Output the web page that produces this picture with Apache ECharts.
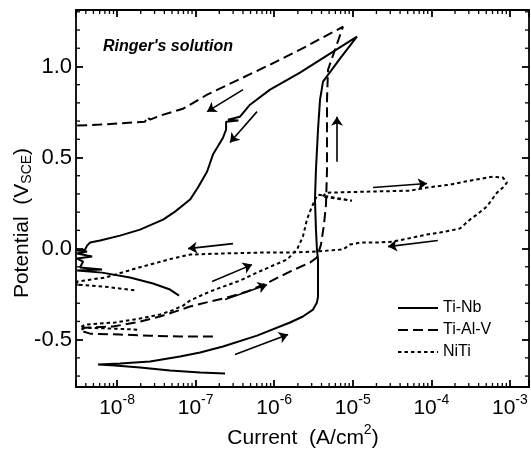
<!DOCTYPE html>
<html><head><meta charset="utf-8">
<script src="https://cdn.jsdelivr.net/npm/echarts@6/dist/echarts.min.js"></script>
<style>html,body{margin:0;padding:0;background:#fff}#c{width:531px;height:452px}</style>
</head><body><div id="c"></div>
<script>
const FONT = '"Liberation Sans", Arial, Helvetica, sans-serif';
const X_MIN = 3.0e-9, X_MAX = 1.75e-3;
const Y_MIN = -0.76, Y_MAX = 1.31;
const xTickExps = [-8, -7, -6, -5, -4, -3];
const yTickLabels = [-0.5, 0.0, 0.5, 1.0];
const seriesNames = ['Ti-Nb', 'Ti-Al-V', 'NiTi'];

// [current (A/cm2), potential (V_SCE)]
const tiNb = [
[2.37e-7,-0.686],[1.14e-7,-0.681],[4.72e-8,-0.670],[1.96e-8,-0.653],[9.43e-9,-0.642],[5.73e-9,-0.637],
[1.09e-8,-0.631],[2.63e-8,-0.620],[6.33e-8,-0.593],[1.14e-7,-0.571],[2.23e-7,-0.538],[6.04e-7,-0.478],
[1.59e-6,-0.406],[2.32e-6,-0.373],[3.12e-6,-0.335],[3.50e-6,-0.296],[3.61e-6,-0.263],[3.61e-6,-0.170],
[3.61e-6,-0.060],[3.50e-6,-0.005],[3.40e-6,0.104],[3.30e-6,0.269],[3.40e-6,0.434],[3.61e-6,0.653],
[3.83e-6,0.818],[4.18e-6,0.917],[6.87e-6,1.043],[1.13e-5,1.164],
[5.13e-6,1.070],[2.13e-6,0.966],[8.85e-7,0.873],[4.92e-7,0.790],[3.67e-7,0.724],[2.58e-7,0.708],
[3.50e-7,0.703],[2.44e-7,0.697],[2.44e-7,0.653],[2.23e-7,0.609],[1.66e-7,0.516],[1.40e-7,0.423],
[1.07e-7,0.335],[8.49e-8,0.269],[5.47e-8,0.203],[3.85e-8,0.159],[1.96e-8,0.104],[1.09e-8,0.071],
[6.08e-9,0.044],[4.53e-9,0.033],[4.15e-9,0.016],[3.92e-9,-0.005],[3.10e-9,-0.011],[4.15e-9,-0.016],
[3.10e-9,-0.027],[4.81e-9,-0.044],[3.10e-9,-0.055],[3.69e-9,-0.071],[3.38e-9,-0.104],[6.44e-9,-0.115],
[3.10e-9,-0.121],[6.44e-9,-0.132],[1.46e-8,-0.159],[2.87e-8,-0.192],[4.72e-8,-0.225],[6.15e-8,-0.258]
];
const tiAlV = [
[1.66e-7,-0.483],[6.33e-8,-0.483],[2.63e-8,-0.478],[1.09e-8,-0.472],[4.53e-9,-0.467],[3.38e-9,-0.450],
[3.92e-9,-0.434],[8.89e-9,-0.428],[1.96e-8,-0.401],[3.52e-8,-0.373],[5.47e-8,-0.346],[8.49e-8,-0.318],
[1.52e-7,-0.291],[2.51e-7,-0.269],[4.51e-7,-0.236],[8.85e-7,-0.181],[1.59e-6,-0.126],[2.85e-6,-0.077],
[3.50e-6,-0.049],[3.94e-6,0.022],[4.30e-6,0.132],[4.56e-6,0.241],[4.70e-6,0.434],[4.70e-6,0.653],
[4.70e-6,0.818],[4.84e-6,0.982],[5.94e-6,1.092],[7.50e-6,1.218],
[2.13e-6,1.092],[8.85e-7,1.010],[4.01e-7,0.939],[1.40e-7,0.845],[6.92e-8,0.768],[3.52e-8,0.730],
[2.63e-8,0.708],[2.41e-8,0.724],[2.27e-8,0.697],[1.60e-8,0.692],[6.08e-9,0.681],[3.00e-9,0.675]
];
const niTi = [
[1.80e-8,-0.445],[8.14e-9,-0.439],[3.38e-9,-0.434],[3.92e-9,-0.417],[9.43e-9,-0.406],[1.96e-8,-0.384],
[3.52e-8,-0.362],[5.01e-8,-0.340],[6.92e-8,-0.313],[8.49e-8,-0.285],[1.52e-7,-0.236],[2.23e-7,-0.209],
[3.67e-7,-0.176],[6.04e-7,-0.132],[9.66e-7,-0.093],[1.46e-6,-0.060],[1.95e-6,-0.005],[2.32e-6,0.066],
[2.61e-6,0.159],[2.85e-6,0.203],[3.30e-6,0.269],[3.61e-6,0.296],[9.77e-6,0.263],[4.06e-6,0.285],
[4.70e-6,0.307],[1.66e-5,0.313],[5.34e-5,0.318],[8.79e-5,0.335],[1.72e-4,0.351],[2.68e-4,0.368],
[6.08e-4,0.395],[8.15e-4,0.390],[9.16e-4,0.362],
[8.15e-4,0.335],[6.84e-4,0.307],[5.90e-4,0.269],[5.09e-4,0.231],[3.80e-4,0.187],[3.10e-4,0.159],
[2.31e-4,0.110],[1.29e-4,0.088],[8.79e-5,0.077],[3.25e-5,0.038],[2.03e-5,0.033],[1.24e-5,0.033],
[9.21e-6,0.022],[7.50e-6,-0.005],[3.50e-6,-0.016],[1.59e-6,-0.022],[6.59e-7,-0.022],[2.17e-7,-0.027],
[8.49e-8,-0.033],[5.01e-8,-0.055],[1.90e-8,-0.104],[7.03e-9,-0.159],[3.10e-9,-0.181],[3.10e-9,-0.198],
[7.03e-9,-0.209],[1.80e-8,-0.231]
];
// scan-direction arrows: [tail, head]
const arrows = [
[[4.01e-7,0.873],[1.40e-7,0.752]],
[[6.04e-7,0.752],[2.74e-7,0.582]],
[[6.30e-6,0.477],[6.30e-6,0.724]],
[[1.81e-5,0.335],[8.79e-5,0.357]],
[[1.21e-4,0.044],[2.81e-5,0.011]],
[[2.99e-7,0.027],[8.00e-8,0.000]],
[[1.62e-7,-0.181],[5.22e-7,-0.088]],
[[2.37e-7,-0.280],[8.09e-7,-0.198]],
[[3.17e-7,-0.582],[1.50e-6,-0.472]]
];

const xMinor = [];
for (let e = -9; e <= -3; e++) for (let m = 2; m <= 9; m++) { const v = m * Math.pow(10, e); if (v > X_MIN * 1.01 && v < X_MAX) xMinor.push(v); }
const yMinor = [];
for (let k = -7; k <= 13; k++) if (k % 5 !== 0) yMinor.push(k / 10);

const AX = { color: '#000', width: 1.8 };
function xFmt(v) {
  const e = Math.log10(v), r = Math.round(e);
  if (Math.abs(e - r) < 1e-6 && xTickExps.indexOf(r) >= 0) return '{b|10}{s|' + r + '}';
  return '';
}
function yFmt(v) {
  for (const t of yTickLabels) if (Math.abs(v - t) < 1e-6) return t.toFixed(1);
  return '';
}
const baseX = { type: 'log', min: X_MIN, max: X_MAX, splitLine: { show: false },
  axisLine: { show: true, onZero: false, lineStyle: AX },
  axisTick: { show: true, inside: true, length: 7, lineStyle: AX }, minorTick: { show: false } };
const baseY = { type: 'value', min: Y_MIN, max: Y_MAX, splitLine: { show: false },
  axisLine: { show: true, onZero: false, lineStyle: AX },
  axisTick: { show: true, inside: true, length: 7, lineStyle: AX }, minorTick: { show: false } };

const chart = echarts.init(document.getElementById('c'), null, { renderer: 'canvas' });
const lineSeries = (name, data, type) => ({
  name, type: 'line', data, xAxisIndex: 0, yAxisIndex: 0, symbol: 'none', showSymbol: false,
  smooth: false, animation: false, clip: true,
  lineStyle: { color: '#000', width: 2, type }, itemStyle: { color: '#000' }
});
chart.setOption({
  animation: false,
  backgroundColor: '#fff',
  textStyle: { fontFamily: FONT, color: '#000' },
  grid: { left: 76, right: 2, top: 10, bottom: 65, containLabel: false, outerBoundsMode: 'none' },
  title: { text: "Ringer's solution", left: 103, top: 39, padding: 0,
    textStyle: { fontFamily: FONT, fontSize: 16, fontWeight: 'bold', fontStyle: 'italic', color: '#000' } },
  legend: { data: seriesNames, orient: 'vertical', left: 397, top: 300, itemWidth: 40, itemHeight: 14, itemGap: 6,
    padding: 0, selectedMode: false,
    itemStyle: { opacity: 0, borderWidth: 0 },
    textStyle: { fontFamily: FONT, fontSize: 16, color: '#000' } },
  xAxis: [
    Object.assign({}, baseX, { position: 'bottom',
      axisLabel: { show: true, margin: 6, formatter: xFmt, color: '#000', showMinLabel: true, showMaxLabel: true,
        rich: { b: { fontFamily: FONT, fontSize: 21, color: '#000', lineHeight: 26, verticalAlign: 'bottom' },
                s: { fontFamily: FONT, fontSize: 14, color: '#000', lineHeight: 14, verticalAlign: 'top' } } } }),
    Object.assign({}, baseX, { position: 'top', axisLabel: { show: false } })
  ],
  yAxis: [
    Object.assign({}, baseY, { position: 'left',
      axisLabel: { show: true, margin: 4, formatter: yFmt, color: '#000', fontFamily: FONT, fontSize: 22 } }),
    Object.assign({}, baseY, { position: 'right', axisLabel: { show: false } })
  ],
  graphic: [
    { type: 'text', x: 303, y: 436, silent: true,
      style: { text: '{a|Current  (A/cm}{p|2}{a|)}', align: 'center', verticalAlign: 'middle', fill: '#000',
        fontFamily: FONT, fontSize: 21,
        rich: { a: { fontFamily: FONT, fontSize: 21, lineHeight: 26, verticalAlign: 'bottom', fill: '#000' },
                p: { fontFamily: FONT, fontSize: 14, lineHeight: 14, verticalAlign: 'top', fill: '#000' } } } },
    { type: 'text', x: 23, y: 223, rotation: Math.PI / 2, silent: true,
      style: { text: '{a|Potential  (V}{d|SCE}{a|)}', align: 'center', verticalAlign: 'middle', fill: '#000',
        fontFamily: FONT, fontSize: 21,
        rich: { a: { fontFamily: FONT, fontSize: 21, lineHeight: 22, verticalAlign: 'top', fill: '#000' },
                d: { fontFamily: FONT, fontSize: 14, lineHeight: 14, padding: [10, 0, 0, 0], verticalAlign: 'bottom', fill: '#000' } } } }
  ],
  series: [
    lineSeries('Ti-Nb', tiNb, 'solid'),
    lineSeries('Ti-Al-V', tiAlV, [10, 5]),
    lineSeries('NiTi', niTi, [3.5, 3]),
    { type: 'lines', coordinateSystem: 'cartesian2d', xAxisIndex: 0, yAxisIndex: 0, silent: true, animation: false,
      symbol: ['none', 'arrow'], symbolSize: 9,
      lineStyle: { color: '#000', width: 1.6, opacity: 1, curveness: 0 },
      data: arrows.map(a => ({ coords: a })) },
    { type: 'custom', xAxisIndex: 0, yAxisIndex: 0, silent: true, animation: false, clip: false,
      data: [[X_MIN, Y_MIN]],
      renderItem: function (params, api) {
        const cs = params.coordSys, L = 4, ch = [];
        const st = { stroke: '#000', lineWidth: 1.3 };
        xMinor.forEach(v => {
          const x = api.coord([v, Y_MIN])[0];
          ch.push({ type: 'line', shape: { x1: x, y1: cs.y + cs.height, x2: x, y2: cs.y + cs.height - L }, style: st });
          ch.push({ type: 'line', shape: { x1: x, y1: cs.y, x2: x, y2: cs.y + L }, style: st });
        });
        yMinor.forEach(v => {
          const y = api.coord([X_MIN, v])[1];
          ch.push({ type: 'line', shape: { x1: cs.x, y1: y, x2: cs.x + L, y2: y }, style: st });
          ch.push({ type: 'line', shape: { x1: cs.x + cs.width, y1: y, x2: cs.x + cs.width - L, y2: y }, style: st });
        });
        return { type: 'group', children: ch };
      } }
  ]
});
</script></body></html>
